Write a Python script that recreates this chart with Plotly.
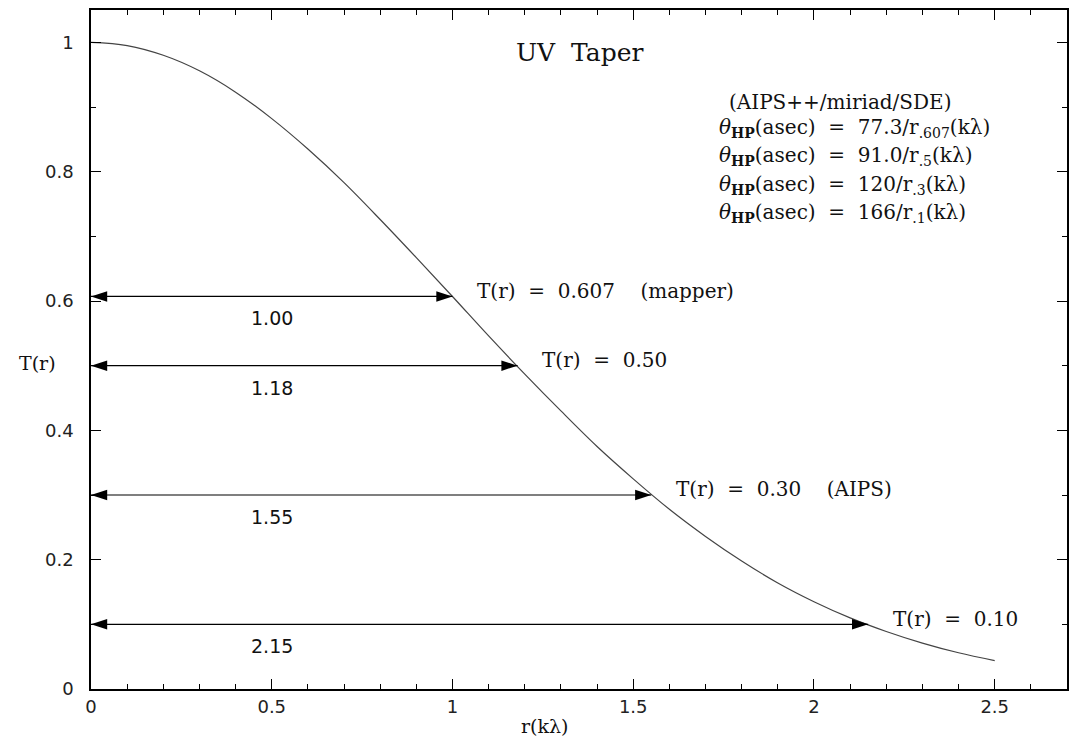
import plotly.graph_objects as go

# ---- data ----
r_vals = [0.0, 0.1, 0.2, 0.3, 0.4, 0.5, 0.6, 0.7, 0.8, 0.9, 1.0, 1.1, 1.2,
          1.3, 1.4, 1.5, 1.6, 1.7, 1.8, 1.9, 2.0, 2.1, 2.2, 2.3, 2.4, 2.5]
taper_vals = [1.000, 0.995, 0.980, 0.956, 0.923, 0.882, 0.835, 0.783, 0.726,
              0.667, 0.607, 0.546, 0.487, 0.430, 0.375, 0.325, 0.278, 0.236,
              0.198, 0.164, 0.135, 0.110, 0.089, 0.071, 0.056, 0.044]

marker_r = [1.00, 1.18, 1.55, 2.15]
marker_T = [0.607, 0.50, 0.30, 0.10]
marker_labels = ["T(r)  =  0.607    (mapper)", "T(r)  =  0.50",
                 "T(r)  =  0.30    (AIPS)", "T(r)  =  0.10"]
width_labels = ["1.00", "1.18", "1.55", "2.15"]

formula_header = "(AIPS++/miriad/SDE)"
formula_consts = ["77.3", "91.0", "120", "166"]
formula_subs = [".607", ".5", ".3", ".1"]

x_ticks = [0, 0.5, 1, 1.5, 2, 2.5]
y_ticks = [0, 0.2, 0.4, 0.6, 0.8, 1.0]

SERIF = "DejaVu Serif"
SANS = "DejaVu Sans"
NB = "\u00a0"

fig = go.Figure()
fig.add_trace(go.Scatter(x=r_vals, y=taper_vals, mode="lines",
                         line=dict(color="#444444", width=1.2, shape="spline"),
                         showlegend=False, hoverinfo="skip"))

# double-headed arrows from r = 0 to each marker radius
for r, t in zip(marker_r, marker_T):
    fig.add_trace(go.Scatter(
        x=[0, r], y=[t, t], mode="lines+markers",
        line=dict(color="black", width=1.2),
        marker=dict(symbol="arrow", size=17, color="black", angleref="up",
                    angle=[-90, 90], line=dict(width=0)),
        showlegend=False, hoverinfo="skip", cliponaxis=False))

ann = []
for r, t, lab, wl in zip(marker_r, marker_T, marker_labels, width_labels):
    ann.append(dict(x=r + 0.062, y=t + 0.009, xref="x", yref="y", text=lab.replace(" ", NB),
                    showarrow=False, xanchor="left", yanchor="middle",
                    font=dict(family=SERIF, size=20, color="#111")))
    ann.append(dict(x=0.5, y=t - 0.034, xref="x", yref="y", text=wl, showarrow=False,
                    xanchor="center", yanchor="middle",
                    font=dict(family=SANS, size=19, color="#111")))

# title
ann.append(dict(x=0.5, y=0.9367, xref="paper", yref="paper", text="UV" + NB * 2 + "Taper",
                showarrow=False, xanchor="center", yanchor="middle",
                font=dict(family=SERIF, size=25, color="#111")))
# formula block
ann.append(dict(x=(728 - 91) / 978, y=(689 - 102) / 679, xref="paper", yref="paper",
                text=formula_header, showarrow=False, xanchor="left", yanchor="middle",
                font=dict(family=SERIF, size=20, color="#111")))
for i, (c, s) in enumerate(zip(formula_consts, formula_subs)):
    ypix = 128 + i * 28.4
    txt = ("<i>θ</i><sub><b>HP</b></sub>(asec)" + NB * 2 + "=" + NB * 2 + c + "/r" +
           "<sub>" + s + "</sub>(kλ)")
    ann.append(dict(x=(718 - 91) / 978, y=(689 - ypix) / 679, xref="paper", yref="paper",
                    text=txt, showarrow=False, xanchor="left", yanchor="middle",
                    font=dict(family=SERIF, size=20, color="#111")))
# axis titles
ann.append(dict(x=(37 - 91) / 978, y=(689 - 363) / 679, xref="paper", yref="paper",
                text="T(r)", showarrow=False, xanchor="center", yanchor="middle",
                font=dict(family=SERIF, size=19, color="#111")))
ann.append(dict(x=(545 - 91) / 978, y=(689 - 726) / 679, xref="paper", yref="paper",
                text="r(kλ)", showarrow=False, xanchor="center", yanchor="middle",
                font=dict(family=SERIF, size=19, color="#111")))

axis_common = dict(showline=True, linecolor="black", linewidth=1.5, mirror="ticks",
                   ticks="inside", ticklen=10, tickwidth=1, tickcolor="black",
                   showgrid=False, zeroline=False,
                   tickfont=dict(family=SANS, size=18, color="#222"))

fig.update_layout(
    width=1073, height=738,
    margin=dict(l=91, r=4, t=10, b=49),
    paper_bgcolor="white", plot_bgcolor="white",
    xaxis=dict(range=[0, 2.7], tickvals=x_ticks, ticktext=[f"{v:g}" for v in x_ticks],
               minor=dict(dtick=0.1, tick0=0, ticks="inside", ticklen=5, tickcolor="black",
                          showgrid=False),
               ticklabelstandoff=1, **axis_common),
    yaxis=dict(range=[0, 1.05], tickvals=y_ticks, ticktext=[f"{v:g}" for v in y_ticks],
               minor=dict(dtick=0.1, tick0=0, ticks="inside", ticklen=5, tickcolor="black",
                          showgrid=False),
               ticklabelstandoff=12, **axis_common),
    annotations=ann,
    showlegend=False,
)

fig.write_html("out.html", config={"displayModeBar": False},
               post_script="document.body.style.margin='0';")
